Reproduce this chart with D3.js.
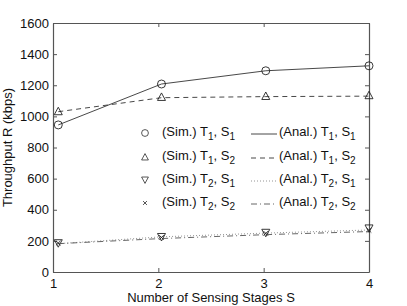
<!DOCTYPE html>
<html>
<head>
<meta charset="utf-8">
<script src="https://cdn.jsdelivr.net/npm/d3@7"></script>
<style>
  body { margin: 0; background: #fff; }
  text { font-family: "Liberation Sans", Arial, sans-serif; fill: #111; }
</style>
</head>
<body>
<svg id="chart" width="407" height="306"></svg>
<script>
// sensing stages (slight offsets as seen in the figure)
const stages = [1.05, 2.03, 3.02, 4];
const xTicks = [1, 2, 3, 4];
const yTicks = [0, 200, 400, 600, 800, 1000, 1200, 1400, 1600];

const simT1S1 = [945, 1208, 1293, 1325];
const simT1S2 = [1033, 1125, 1131, 1136];
const simT2S1 = [185, 225, 252, 280];
const simT2S2 = [186, 222, 248, 268];

const anaT1S1 = [945, 1208, 1293, 1325];
const anaT1S2 = [1030, 1120, 1127, 1130];
const anaT2S1 = [182, 226, 250, 270];
const anaT2S2 = [182, 215, 240, 260];

const svg = d3.select("#chart"),
    margin = { top: 23, right: 38, bottom: 34, left: 53 },
    width = +svg.attr("width") - margin.left - margin.right,
    height = +svg.attr("height") - margin.top - margin.bottom,
    g = svg.append("g").attr("transform", `translate(${margin.left},${margin.top})`);

const x = d3.scaleLinear().domain([1, 4]).range([0, width]);
const y = d3.scaleLinear().domain([0, 1600]).range([height, 0]);

const axisColor = "#555";

// axes (box style, ticks inward)
function styleAxis(sel) {
    sel.select(".domain").attr("stroke", axisColor).attr("stroke-width", 1.2);
    sel.selectAll(".tick line").attr("stroke", axisColor);
    sel.selectAll("text").style("font-size", "13px").attr("fill", "#111");
}
g.append("g").attr("transform", `translate(0,${height})`)
    .call(d3.axisBottom(x).tickValues(xTicks).tickSize(-4).tickPadding(7).tickSizeOuter(0).tickFormat(d3.format("d")))
    .call(styleAxis);
g.append("g")
    .call(d3.axisTop(x).tickValues(xTicks).tickSize(-4).tickFormat("").tickSizeOuter(0))
    .call(styleAxis);
g.append("g")
    .call(d3.axisLeft(y).tickValues(yTicks).tickSize(-4).tickPadding(4).tickSizeOuter(0).tickFormat(d3.format("d")))
    .call(styleAxis);
g.append("g").attr("transform", `translate(${width},0)`)
    .call(d3.axisRight(y).tickValues(yTicks).tickSize(-4).tickFormat("").tickSizeOuter(0))
    .call(styleAxis);

svg.append("text")
    .attr("x", margin.left + width / 2).attr("y", 302)
    .attr("text-anchor", "middle").style("font-size", "13px")
    .text("Number of Sensing Stages S");
svg.append("text")
    .attr("transform", `translate(12,${margin.top + height / 2}) rotate(-90)`)
    .attr("text-anchor", "middle").style("font-size", "13px")
    .text("Throughput R (kbps)");

const line = d3.line().x((d, i) => x(stages[i])).y(d => y(d));

const series = [
    { sim: simT1S1, ana: anaT1S1, marker: "circle", dash: null, color: "#333", t: "1", s: "1" },
    { sim: simT1S2, ana: anaT1S2, marker: "up", dash: "5,4", color: "#333", t: "1", s: "2" },
    { sim: simT2S1, ana: anaT2S1, marker: "down", dash: "1,2", color: "#888", t: "2", s: "1" },
    { sim: simT2S2, ana: anaT2S2, marker: "cross", dash: "6,3,1,3", color: "#555", t: "2", s: "2" }
];

function drawMarker(sel, type) {
    if (type === "circle") {
        sel.append("circle").attr("r", 4);
    } else if (type === "up") {
        sel.append("path").attr("d", "M0,-4L4,3.5L-4,3.5Z");
    } else if (type === "down") {
        sel.append("path").attr("d", "M0,4L4,-3.5L-4,-3.5Z");
    } else {
        sel.append("path").attr("d", "M-2.3,-2.3L2.3,2.3M-2.3,2.3L2.3,-2.3");
    }
    sel.selectAll("circle,path").attr("fill", "none").attr("stroke", "#222").attr("stroke-width", 0.9);
}

series.forEach(s => {
    g.append("path").datum(s.ana)
        .attr("d", line)
        .attr("fill", "none").attr("stroke", s.color).attr("stroke-width", 0.9)
        .attr("stroke-dasharray", s.dash);
    s.sim.forEach((v, i) => {
        const m = g.append("g").attr("transform", `translate(${x(stages[i])},${y(v)})`);
        drawMarker(m, s.marker);
    });
});

// legend
const legend = svg.append("g");
const rowY = [133, 157, 180, 203];
function label(sel, prefix, t, s) {
    const txt = sel.style("font-size", "13px");
    txt.append("tspan").text(prefix + " T");
    txt.append("tspan").attr("dy", 4).style("font-size", "10px").text(t);
    txt.append("tspan").attr("dy", -4).text(", S");
    txt.append("tspan").attr("dy", 4).style("font-size", "10px").text(s);
}
series.forEach((s, i) => {
    const row = legend.append("g").attr("transform", `translate(0,${rowY[i]})`);
    drawMarker(row.append("g").attr("transform", "translate(145,0) scale(0.85)"), s.marker);
    label(row.append("text").attr("x", 162).attr("y", 3), "(Sim.)", s.t, s.s);
    row.append("line").attr("x1", 251).attr("x2", 277).attr("y1", 1).attr("y2", 1)
        .attr("stroke", s.color).attr("stroke-width", 0.9).attr("stroke-dasharray", s.dash);
    label(row.append("text").attr("x", 279).attr("y", 3), "(Anal.)", s.t, s.s);
});
</script>
</body>
</html>
